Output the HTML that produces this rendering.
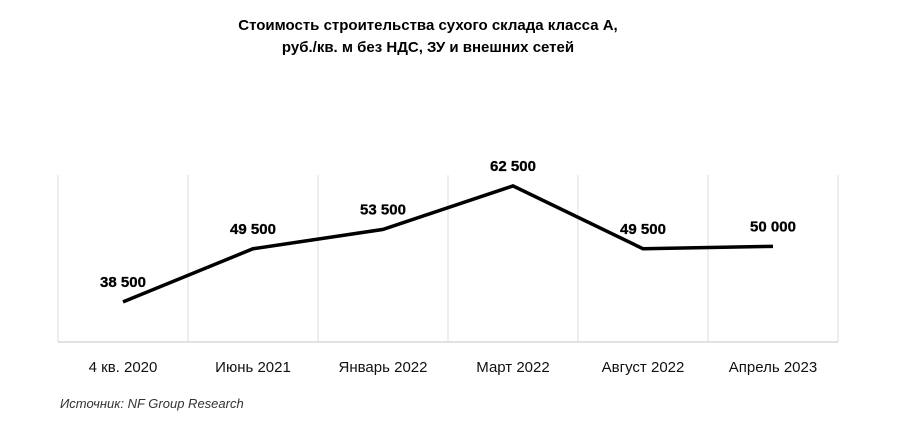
<!DOCTYPE html>
<html><head><meta charset="utf-8"><style>
body{margin:0;background:#fff;width:900px;height:418px;overflow:hidden;font-family:"Liberation Sans","DejaVu Sans",sans-serif}
</style></head><body>
<svg width="900" height="418" id="c">
<text x="428" y="30" text-anchor="middle" font-size="15" font-weight="bold">Стоимость строительства сухого склада класса А,</text>
<text x="428" y="52" text-anchor="middle" font-size="15" font-weight="bold">руб./кв. м без НДС, ЗУ и внешних сетей</text>
<text x="60" y="408" font-size="13" font-style="italic" fill="#333">Источник: NF Group Research</text>
</svg>
<script>
const categories=["4 кв. 2020","Июнь 2021","Январь 2022","Март 2022","Август 2022","Апрель 2023"];
const values=[38500,49500,53500,62500,49500,50000];
const valueLabels=["38 500","49 500","53 500","62 500","49 500","50 000"];
const svg=document.getElementById('c');const NS="http://www.w3.org/2000/svg";
const x0=58,band=130,yTop=175,yBot=342,dMin=30000,dMax=66000;
const plotTop=169,plotBot=343;
const xs=i=>x0+band*(i+0.5);
const ys=v=>plotBot-(v-dMin)/(dMax-dMin)*(plotBot-plotTop);
function el(t,a){const e=document.createElementNS(NS,t);for(const k in a)e.setAttribute(k,a[k]);svg.appendChild(e);return e;}
for(let i=0;i<=categories.length;i++){const g=el('line',{x1:x0+band*i,x2:x0+band*i,y1:yTop,y2:yBot,stroke:'#dcdcdc','stroke-width':1});

}
const ax=el('line',{x1:x0,x2:x0+band*categories.length,y1:yBot,y2:yBot,stroke:'#d9d9d9','stroke-width':1.5});


const pl=el('polyline',{points:values.map((v,i)=>xs(i)+','+ys(v)).join(' '),fill:'none',stroke:'#000','stroke-width':3.5,'stroke-linejoin':'miter'});


categories.forEach((c,i)=>{
const t=el('text',{x:xs(i),y:372,'text-anchor':'middle','font-size':15,fill:'#111'});t.textContent=c;


const l=el('text',{x:xs(i),y:ys(values[i])-15,'text-anchor':'middle','font-size':15,'font-weight':'bold',stroke:'#000','stroke-width':0.3});l.textContent=valueLabels[i];


});
</script>
</body></html>
